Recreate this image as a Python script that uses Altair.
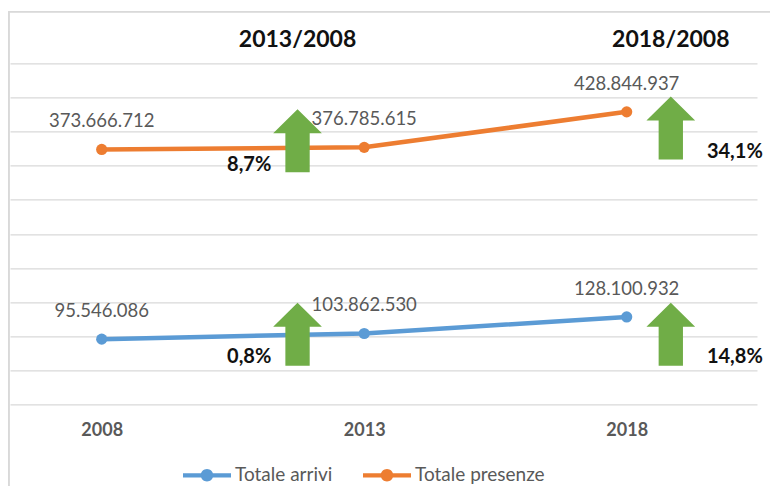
import altair as alt
import pandas as pd

# ---- data ----
years = [2008, 2013, 2018]
arrivi = [95546086, 103862530, 128100932]
presenze = [373666712, 376785615, 428844937]
series_names = ["Totale arrivi", "Totale presenze"]
series_colors = ["#5B9BD5", "#ED7D31"]

comparisons = ["2013/2008", "2018/2008"]
var_presenze = ["8,7%", "34,1%"]
var_arrivi = ["0,8%", "14,8%"]

# annotation anchors (data units)
arrow_years = [2011.73, 2018.84]
arrow_presenze = [386.4e6, 405.1e6]
arrow_arrivi = [102.8e6, 102.8e6]
pct_years = [2010.81, 2020.06]
pct_presenze = [351.0e6, 370.4e6]
pct_arrivi = [69.4e6, 69.8e6]

y_ticks = list(range(0, 500_000_001, 50_000_000))


def it_fmt(v):
    return f"{v:,}".replace(",", ".")


rows = []
for name, vals in zip(series_names, [arrivi, presenze]):
    for yr, v in zip(years, vals):
        rows.append({"year": yr, "value": v, "serie": name, "label": it_fmt(v)})
df = pd.DataFrame(rows)

arrows = pd.DataFrame({
    "year": arrow_years + arrow_years,
    "value": arrow_presenze + arrow_arrivi,
})
pcts = pd.DataFrame({
    "year": pct_years + pct_years,
    "value": pct_presenze + pct_arrivi,
    "txt": var_presenze + var_arrivi,
})
heads = pd.DataFrame({"year": arrow_years, "txt": comparisons})

FONT = "Lato"
GRID = "#d9d9d9"

x_scale = alt.Scale(domain=[2006.253, 2020.482], nice=False, zero=False)
y_scale = alt.Scale(domain=[0, 500_000_000], nice=False)
color_scale = alt.Scale(domain=series_names, range=series_colors)

x_axis = alt.Axis(values=years, format="d", grid=False, domain=False, ticks=False,
                  tickSize=0, labelFont=FONT, labelFontWeight="bold", labelFontSize=18,
                  labelColor="#595959", labelPadding=17.5, title=None)
y_axis = alt.Axis(values=y_ticks, labels=False, ticks=False, domain=False, grid=True,
                  gridColor=GRID, gridWidth=1.3, title=None)
x_enc = alt.X("year:Q", scale=x_scale, axis=x_axis)
y_enc = alt.Y("value:Q", scale=y_scale, axis=y_axis)

legend_shape = ("M-1,-0.09L1,-0.09L1,0.09L-1,0.09Z "
                "M-0.26,0A0.26,0.26 0 1,1 0.26,0A0.26,0.26 0 1,1 -0.26,0Z")
legend = alt.Legend(
    title=None, orient="none", direction="horizontal",
    legendX=173, legendY=388, padding=0,
    symbolType=legend_shape, symbolSize=2304, symbolStrokeWidth=0,
    symbolOpacity=1,
    labelFont=FONT, labelFontSize=19, labelColor="#595959", labelOffset=4,
    columnPadding=30,
)
color_enc = alt.Color("serie:N", scale=color_scale, legend=legend)

points = alt.Chart(df).mark_circle(size=125, opacity=1).encode(
    x=x_enc, y=y_enc, color=color_enc,
)
lines = alt.Chart(df).mark_line(strokeWidth=4.5).encode(
    x=x_enc, y=y_enc, color=color_enc,
)
labels = alt.Chart(df).mark_text(
    dy=-28, font=FONT, fontSize=18.5, color="#595959", baseline="middle", align="center"
).encode(x=x_enc, y=y_enc, text="label:N")

arrow_path = ("M0,-1L0.773,-0.238L0.386,-0.238L0.386,1L-0.386,1L-0.386,-0.238"
              "L-0.773,-0.238Z")
arrow_layer = alt.Chart(arrows).mark_point(
    shape=arrow_path, filled=True, size=3969, color="#70AD47", opacity=1, strokeWidth=0
).encode(x=x_enc, y=y_enc)

pct_layer = alt.Chart(pcts).mark_text(
    font=FONT, fontSize=20, fontWeight="bold", color="#111111", baseline="middle",
    align="center"
).encode(x=x_enc, y=y_enc, text="txt:N")

head_layer = alt.Chart(heads).mark_text(
    font=FONT, fontSize=23, fontWeight="bold", color="#111111", baseline="middle",
    align="center"
).encode(x=x_enc, y=alt.value(-23.6), text="txt:N")

frame_top = alt.Chart(df).mark_rule(color=GRID, strokeWidth=1.3).encode(
    x=alt.value(-1.3), x2=alt.value(780), y=alt.value(-51.6)
)
frame_left = alt.Chart(df).mark_rule(color=GRID, strokeWidth=1.3).encode(
    x=alt.value(-1.3), y=alt.value(-51.6), y2=alt.value(440)
)

chart = alt.layer(
    points, lines, labels, arrow_layer, pct_layer, head_layer, frame_top, frame_left
).properties(
    width=747, height=341,
    padding={"left": 2, "top": 55.3, "right": 13, "bottom": 81.7},
    autosize=alt.AutoSizeParams(type="none"),
    background="white",
).configure_view(strokeWidth=0)

chart.save("out.html", embed_options={"renderer": "svg", "actions": False})
